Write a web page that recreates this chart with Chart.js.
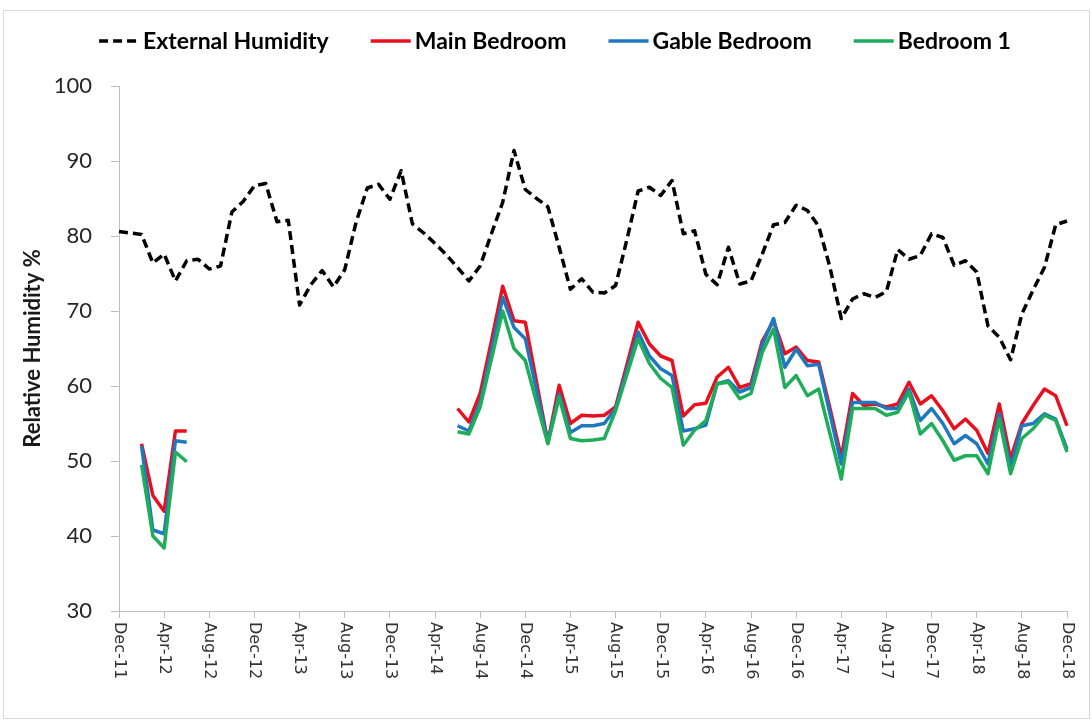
<!DOCTYPE html>
<html>
<head>
<meta charset="utf-8">
<title>Relative Humidity</title>
<script src="https://cdn.jsdelivr.net/npm/chart.js@4.4.0/dist/chart.umd.min.js"></script>
<style>
  html, body { margin: 0; padding: 0; background: #fff; }
  #wrap { width: 1092px; height: 720px; }
</style>
</head>
<body>
<div id="wrap"><canvas id="humidity-chart" width="1092" height="720"></canvas></div>
<script>
// monthly categories, Dec-11 .. Dec-18
const categories = [
  'Dec-11',
  'Jan-12', 'Feb-12', 'Mar-12', 'Apr-12', 'May-12', 'Jun-12', 'Jul-12', 'Aug-12', 'Sep-12', 'Oct-12', 'Nov-12', 'Dec-12',
  'Jan-13', 'Feb-13', 'Mar-13', 'Apr-13', 'May-13', 'Jun-13', 'Jul-13', 'Aug-13', 'Sep-13', 'Oct-13', 'Nov-13', 'Dec-13',
  'Jan-14', 'Feb-14', 'Mar-14', 'Apr-14', 'May-14', 'Jun-14', 'Jul-14', 'Aug-14', 'Sep-14', 'Oct-14', 'Nov-14', 'Dec-14',
  'Jan-15', 'Feb-15', 'Mar-15', 'Apr-15', 'May-15', 'Jun-15', 'Jul-15', 'Aug-15', 'Sep-15', 'Oct-15', 'Nov-15', 'Dec-15',
  'Jan-16', 'Feb-16', 'Mar-16', 'Apr-16', 'May-16', 'Jun-16', 'Jul-16', 'Aug-16', 'Sep-16', 'Oct-16', 'Nov-16', 'Dec-16',
  'Jan-17', 'Feb-17', 'Mar-17', 'Apr-17', 'May-17', 'Jun-17', 'Jul-17', 'Aug-17', 'Sep-17', 'Oct-17', 'Nov-17', 'Dec-17',
  'Jan-18', 'Feb-18', 'Mar-18', 'Apr-18', 'May-18', 'Jun-18', 'Jul-18', 'Aug-18', 'Sep-18', 'Oct-18', 'Nov-18', 'Dec-18'
];

// only every 4th month gets a label on the axis
const tickEvery = 4;

// relative humidity %, monthly means (null = no logger data)
const externalHumidity = [
  80.6, 80.4, 80.2, 76.4, 77.6, 74.0, 76.7, 76.9, 75.6, 76.0,
  83.2, 84.6, 86.7, 87.0, 81.9, 82.1, 70.8, 73.5, 75.4, 73.2,
  75.5, 81.8, 86.4, 86.9, 84.9, 88.7, 81.6, 80.4, 79.0, 77.5,
  75.8, 74.0, 76.0, 80.3, 84.5, 91.4, 86.2, 85.0, 83.9, 78.5,
  72.9, 74.3, 72.5, 72.4, 73.4, 79.5, 86.0, 86.5, 85.4, 87.4,
  80.3, 80.7, 74.9, 73.5, 78.5, 73.6, 74.0, 77.6, 81.5, 81.8,
  84.1, 83.4, 81.3, 75.8, 69.0, 71.6, 72.3, 71.8, 72.6, 78.2,
  76.9, 77.4, 80.3, 79.8, 76.1, 76.7, 75.2, 68.0, 66.5, 63.5,
  69.6, 72.8, 75.8, 81.5, 82.0
];

const mainBedroom = [
  null, null, 52.3, 45.4, 43.3, 54.0, 54.0, null, null, null,
  null, null, null, null, null, null, null, null, null, null,
  null, null, null, null, null, null, null, null, null, null,
  57.0, 55.2, 59.0, 66.0, 73.3, 68.7, 68.5, 60.5, 52.5, 60.1,
  55.0, 56.1, 56.0, 56.1, 57.2, 62.8, 68.5, 65.6, 64.0, 63.4,
  56.0, 57.5, 57.7, 61.2, 62.5, 59.8, 60.3, 66.0, 68.7, 64.3,
  65.2, 63.4, 63.2, 57.0, 50.5, 59.0, 57.4, 57.6, 57.2, 57.6,
  60.5, 57.6, 58.7, 56.7, 54.3, 55.6, 54.1, 51.0, 57.6, 50.3,
  55.0, 57.4, 59.6, 58.7, 54.7
];

const gableBedroom = [
  null, null, 52.0, 40.8, 40.3, 52.7, 52.5, null, null, null,
  null, null, null, null, null, null, null, null, null, null,
  null, null, null, null, null, null, null, null, null, null,
  54.7, 54.0, 57.8, 64.7, 71.8, 67.8, 66.3, 59.4, 52.5, 58.9,
  53.8, 54.7, 54.7, 55.0, 57.0, 62.1, 67.2, 64.0, 62.3, 61.4,
  54.0, 54.3, 54.8, 60.3, 60.7, 59.2, 59.8, 65.5, 69.0, 62.5,
  64.9, 62.7, 62.9, 56.3, 49.6, 57.8, 57.8, 57.8, 57.0, 57.0,
  59.6, 55.4, 57.0, 55.0, 52.3, 53.4, 52.3, 49.6, 56.3, 49.2,
  54.7, 55.0, 56.3, 55.6, 51.6
];

const bedroom1 = [
  null, null, 49.5, 40.0, 38.4, 51.2, 49.9, null, null, null,
  null, null, null, null, null, null, null, null, null, null,
  null, null, null, null, null, null, null, null, null, null,
  53.9, 53.6, 57.2, 63.6, 70.0, 65.0, 63.4, 57.8, 52.3, 58.5,
  53.0, 52.7, 52.8, 53.0, 56.7, 61.5, 66.3, 63.0, 61.0, 59.8,
  52.1, 54.1, 55.4, 60.3, 60.5, 58.3, 59.0, 64.5, 67.6, 59.8,
  61.4, 58.7, 59.6, 53.6, 47.6, 57.0, 57.0, 57.0, 56.1, 56.5,
  59.2, 53.6, 55.0, 52.7, 50.1, 50.7, 50.7, 48.3, 55.6, 48.3,
  53.0, 54.3, 56.1, 55.4, 51.2
];

const axisGrey = '#bfbfbf';

// white page with the thin chart frame
const frame = {
  id: 'frame',
  beforeDraw(chart) {
    const ctx = chart.ctx;
    ctx.save();
    ctx.fillStyle = '#fff';
    ctx.fillRect(0, 0, chart.width, chart.height);
    ctx.strokeStyle = '#d9d9d9';
    ctx.lineWidth = 1;
    ctx.strokeRect(3.5, 10.5, chart.width - 6, chart.height - 12);
    ctx.restore();
  }
};

// x labels run top-to-bottom under each tick mark
const verticalLabels = {
  id: 'verticalLabels',
  afterDraw(chart) {
    const ctx = chart.ctx;
    const xs = chart.scales.x;
    ctx.save();
    ctx.font = '16px "DejaVu Sans"';
    ctx.fillStyle = '#333333';
    ctx.textAlign = 'left';
    ctx.textBaseline = 'middle';
    categories.forEach((label, i) => {
      if (i % tickEvery !== 0) return;
      ctx.save();
      ctx.translate(xs.getPixelForValue(i), xs.top + 11);
      ctx.rotate(Math.PI / 2);
      ctx.fillText(label, 0, 0);
      ctx.restore();
    });
    ctx.restore();
  }
};

// single legend row across the top
const legendRow = {
  id: 'legendRow',
  afterDraw(chart) {
    const ctx = chart.ctx;
    const sample = 40, textGap = 4, itemGap = 42, centre = 555, y = 41;
    ctx.save();
    ctx.font = 'bold 23px Lato';
    ctx.textBaseline = 'middle';
    ctx.textAlign = 'left';
    const items = chart.data.datasets.map(ds => ({ ds, w: sample + textGap + ctx.measureText(ds.label).width }));
    const total = items.reduce((s, it) => s + it.w, 0) + itemGap * (items.length - 1);
    let x = centre - total / 2;
    items.forEach(({ ds, w }) => {
      ctx.strokeStyle = ds.borderColor;
      ctx.lineWidth = ds.borderWidth;
      ctx.setLineDash(ds.borderDash || []);
      ctx.beginPath();
      ctx.moveTo(x, y);
      ctx.lineTo(x + sample, y);
      ctx.stroke();
      ctx.setLineDash([]);
      ctx.fillStyle = '#000';
      ctx.fillText(ds.label, x + sample + textGap, y + 1);
      x += w + itemGap;
    });
    ctx.restore();
  }
};

const lineDefaults = { pointRadius: 0, borderWidth: 3.5, tension: 0, spanGaps: false, borderJoinStyle: 'round', fill: false };

new Chart(document.getElementById('humidity-chart'), {
  type: 'line',
  data: {
    labels: categories,
    datasets: [
      { ...lineDefaults, label: 'External Humidity', data: externalHumidity, borderColor: '#000', borderDash: [9, 5], order: 4 },
      { ...lineDefaults, label: 'Main Bedroom', data: mainBedroom, borderColor: '#e8101e', order: 3 },
      { ...lineDefaults, label: 'Gable Bedroom', data: gableBedroom, borderColor: '#1f78bf', order: 2 },
      { ...lineDefaults, label: 'Bedroom 1', data: bedroom1, borderColor: '#1eae5a', order: 1 }
    ]
  },
  options: {
    responsive: false,
    animation: false,
    devicePixelRatio: 1,
    layout: { padding: { top: 86, right: 25, bottom: 0, left: 0 } },
    plugins: {
      legend: { display: false },
      tooltip: { enabled: false }
    },
    scales: {
      x: {
        ticks: { display: false, autoSkip: false },
        grid: {
          drawOnChartArea: false,
          drawTicks: true,
          tickLength: 7,
          color: c => (c.index % tickEvery === 0 ? axisGrey : 'rgba(0,0,0,0)')
        },
        border: { color: axisGrey, width: 1 },
        afterFit: s => { s.height = 109; }
      },
      y: {
        min: 30,
        max: 100,
        ticks: { stepSize: 10, padding: 19, color: '#262626', font: { family: 'Lato', size: 22 } },
        grid: { drawOnChartArea: false, drawTicks: true, tickLength: 8, color: axisGrey },
        border: { color: axisGrey, width: 1 },
        title: {
          display: true,
          text: 'Relative Humidity %',
          color: '#1a1a1a',
          font: { family: 'Lato', size: 22, weight: 'bold' },
          padding: { top: 20, bottom: 0 }
        },
        afterFit: s => { s.width = 119; }
      }
    }
  },
  plugins: [frame, verticalLabels, legendRow]
});
</script>
</body>
</html>
